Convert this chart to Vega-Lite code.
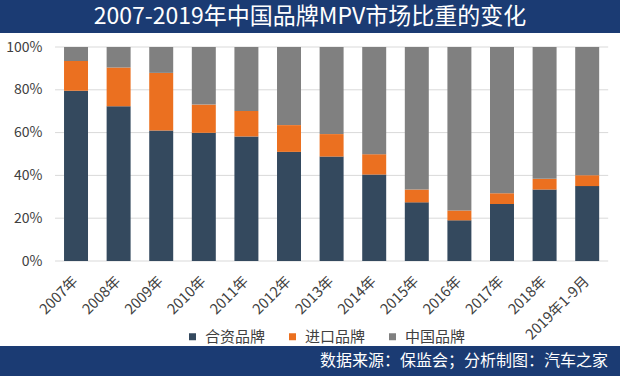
{
  "$schema": "https://vega.github.io/schema/vega-lite/v6.json",
  "padding": 0,
  "background": "#FFFFFF",
  "columns": 1,
  "align": "none",
  "spacing": 1,
  "resolve": {"legend": {"color": "independent"}},
  "config": {
    "font": "Noto Sans CJK SC",
    "view": {"stroke": null}
  },
  "concat": [
    {
      "columns": 1,
      "align": "none",
      "spacing": 7,
      "resolve": {"legend": {"color": "independent"}},
      "concat": [
        {
          "width": 620,
          "height": 33,
          "view": {"fill": "#1B3B73", "stroke": null},
          "data": {"values": [{"t": "2007-2019年中国品牌MPV市场比重的变化"}]},
          "mark": {"type": "text", "color": "#FFFFFF", "fontSize": 23, "font": "Noto Sans CJK SC", "align": "center", "baseline": "middle"},
          "encoding": {"text": {"field": "t"}}
        },
        {
          "width": 608,
          "height": 214,
          "layer": [
            {
              "data": {"values": [{"g": 0}, {"g": 20}, {"g": 40}, {"g": 60}, {"g": 80}, {"g": 100}]},
              "mark": {"type": "rule", "color": "#D9D9D9", "strokeWidth": 1},
              "encoding": {
                "y": {
                  "field": "g", "type": "quantitative",
                  "scale": {"domain": [0, 100], "nice": false},
                  "axis": {"title": null, "values": [0, 20, 40, 60, 80, 100], "labelExpr": "datum.value + '%'", "labelFontSize": 14, "labelColor": "#404040", "labelPadding": -42, "ticks": false, "domain": false, "grid": false, "labelFont": "Noto Sans CJK SC"}
                },
                "x": {"datum": "2007年", "type": "nominal", "bandPosition": -0.375},
                "x2": {"datum": "2019年1-9月", "bandPosition": 1.375}
              }
            },
            {
              "data": {"values": [
                {"year": "2007年", "brand": "合资品牌", "k": 1, "share": 79.5},
                {"year": "2007年", "brand": "进口品牌", "k": 2, "share": 14.0},
                {"year": "2007年", "brand": "中国品牌", "k": 3, "share": 6.5},
                {"year": "2008年", "brand": "合资品牌", "k": 1, "share": 72.3},
                {"year": "2008年", "brand": "进口品牌", "k": 2, "share": 18.1},
                {"year": "2008年", "brand": "中国品牌", "k": 3, "share": 9.6},
                {"year": "2009年", "brand": "合资品牌", "k": 1, "share": 61.0},
                {"year": "2009年", "brand": "进口品牌", "k": 2, "share": 26.9},
                {"year": "2009年", "brand": "中国品牌", "k": 3, "share": 12.1},
                {"year": "2010年", "brand": "合资品牌", "k": 1, "share": 59.9},
                {"year": "2010年", "brand": "进口品牌", "k": 2, "share": 13.2},
                {"year": "2010年", "brand": "中国品牌", "k": 3, "share": 26.9},
                {"year": "2011年", "brand": "合资品牌", "k": 1, "share": 58.2},
                {"year": "2011年", "brand": "进口品牌", "k": 2, "share": 11.9},
                {"year": "2011年", "brand": "中国品牌", "k": 3, "share": 29.9},
                {"year": "2012年", "brand": "合资品牌", "k": 1, "share": 51.0},
                {"year": "2012年", "brand": "进口品牌", "k": 2, "share": 12.5},
                {"year": "2012年", "brand": "中国品牌", "k": 3, "share": 36.5},
                {"year": "2013年", "brand": "合资品牌", "k": 1, "share": 48.8},
                {"year": "2013年", "brand": "进口品牌", "k": 2, "share": 10.5},
                {"year": "2013年", "brand": "中国品牌", "k": 3, "share": 40.7},
                {"year": "2014年", "brand": "合资品牌", "k": 1, "share": 40.4},
                {"year": "2014年", "brand": "进口品牌", "k": 2, "share": 9.5},
                {"year": "2014年", "brand": "中国品牌", "k": 3, "share": 50.1},
                {"year": "2015年", "brand": "合资品牌", "k": 1, "share": 27.4},
                {"year": "2015年", "brand": "进口品牌", "k": 2, "share": 6.0},
                {"year": "2015年", "brand": "中国品牌", "k": 3, "share": 66.6},
                {"year": "2016年", "brand": "合资品牌", "k": 1, "share": 19.0},
                {"year": "2016年", "brand": "进口品牌", "k": 2, "share": 4.6},
                {"year": "2016年", "brand": "中国品牌", "k": 3, "share": 76.4},
                {"year": "2017年", "brand": "合资品牌", "k": 1, "share": 26.6},
                {"year": "2017年", "brand": "进口品牌", "k": 2, "share": 5.1},
                {"year": "2017年", "brand": "中国品牌", "k": 3, "share": 68.3},
                {"year": "2018年", "brand": "合资品牌", "k": 1, "share": 33.4},
                {"year": "2018年", "brand": "进口品牌", "k": 2, "share": 5.0},
                {"year": "2018年", "brand": "中国品牌", "k": 3, "share": 61.6},
                {"year": "2019年1-9月", "brand": "合资品牌", "k": 1, "share": 35.0},
                {"year": "2019年1-9月", "brand": "进口品牌", "k": 2, "share": 5.1},
                {"year": "2019年1-9月", "brand": "中国品牌", "k": 3, "share": 59.9}
              ]},
              "mark": {"type": "bar"},
              "encoding": {
                "x": {
                  "field": "year", "type": "nominal",
                  "scale": {"domain": ["2007年", "2008年", "2009年", "2010年", "2011年", "2012年", "2013年", "2014年", "2015年", "2016年", "2017年", "2018年", "2019年1-9月"], "paddingInner": 0.437, "paddingOuter": 0.855, "align": 0.879},
                  "axis": {"title": null, "labelAngle": -45, "labelAlign": "right", "labelBaseline": "middle", "labelPadding": 18, "labelFontSize": 14.5, "labelColor": "#404040", "ticks": false, "domain": false, "grid": false, "labelFont": "Noto Sans CJK SC"}
                },
                "y": {
                  "field": "share", "type": "quantitative", "stack": "zero",
                  "scale": {"domain": [0, 100], "nice": false},
                  "axis": {"title": null, "values": [0, 20, 40, 60, 80, 100], "labelExpr": "datum.value + '%'", "labelFontSize": 14, "labelColor": "#404040", "labelPadding": -42, "ticks": false, "domain": false, "grid": false, "labelFont": "Noto Sans CJK SC"}
                },
                "color": {
                  "field": "brand", "type": "nominal",
                  "scale": {"domain": ["合资品牌", "进口品牌", "中国品牌"], "range": ["#34495E", "#EB7020", "#808080"]},
                  "legend": {"title": null, "orient": "none", "direction": "horizontal", "legendX": 185, "legendY": 282, "symbolType": "square", "symbolSize": 49, "symbolStrokeWidth": 0, "labelFontSize": 15, "labelColor": "#404040", "labelOffset": 5, "columnPadding": 19, "labelFont": "Noto Sans CJK SC"}
                },
                "order": {"field": "k", "type": "quantitative"}
              }
            }
          ]
        }
      ]
    },
    {
      "width": 620,
      "height": 30,
      "view": {"fill": "#1B3B73", "stroke": null},
      "data": {"values": [{"t": "数据来源：保监会；分析制图：汽车之家"}]},
      "mark": {"type": "text", "color": "#FFFFFF", "fontSize": 16, "font": "Noto Sans CJK SC", "align": "right", "baseline": "middle", "dx": -12},
      "encoding": {
        "text": {"field": "t"},
        "x": {"datum": 1, "type": "quantitative", "scale": {"domain": [0, 1]}, "axis": null}
      }
    }
  ]
}
